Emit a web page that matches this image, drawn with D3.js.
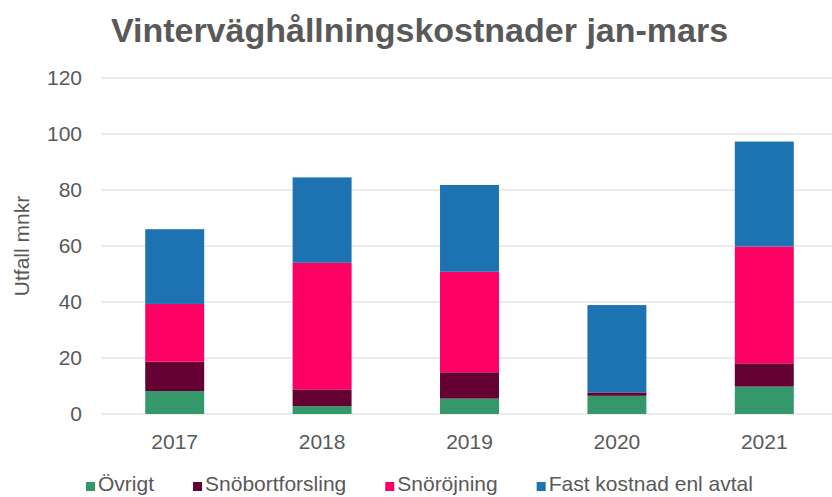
<!DOCTYPE html>
<html>
<head>
<meta charset="utf-8">
<script src="https://cdn.jsdelivr.net/npm/d3@7"></script>
<style>
  body { margin: 0; background: #fff; }
  text { font-family: 'Liberation Sans', Arial, sans-serif; fill: #595959; }
</style>
</head>
<body>
<div id="app"></div>
<script>
// data (mnkr)
const years = ['2017', '2018', '2019', '2020', '2021']
const ovrigt = [8.2, 2.8, 5.5, 6.5, 9.8]
const snobortforsling = [10.5, 6.0, 9.4, 1.2, 8.3]
const snorojning = [20.6, 45.2, 35.9, 0, 41.7]
const fastKostnad = [26.7, 30.5, 31.0, 31.2, 37.5]
const seriesNames = ['Övrigt', 'Snöbortforsling', 'Snöröjning', 'Fast kostnad enl avtal']
const yTicks = [0, 20, 40, 60, 80, 100, 120]

const colors = ['#35986a', '#650032', '#fc0063', '#1d73b2']

const W = 832, H = 497
const svg = d3.select('#app').append('svg').attr('width', W).attr('height', H)

const rows = years.map((y, i) => ({
  year: y,
  'Övrigt': ovrigt[i],
  'Snöbortforsling': snobortforsling[i],
  'Snöröjning': snorojning[i],
  'Fast kostnad enl avtal': fastKostnad[i]
}))
const stacked = d3.stack().keys(seriesNames)(rows)

const x = d3.scaleBand().domain(years).range([101, 838]).paddingInner(0.6).paddingOuter(0.3)
const y = d3.scaleLinear().domain([0, 120]).range([414, 78])

// gridlines
svg.append('g')
  .selectAll('line').data(yTicks).enter().append('line')
  .attr('x1', 101).attr('x2', W)
  .attr('y1', d => y(d)).attr('y2', d => y(d))
  .attr('stroke', '#d9d9d9').attr('stroke-width', 1)

// y tick labels
svg.append('g')
  .selectAll('text').data(yTicks).enter().append('text')
  .attr('x', 82).attr('y', d => y(d)).attr('dy', '0.35em')
  .attr('text-anchor', 'end').style('font-size', '21px')
  .text(d => d)

// bars
svg.append('g')
  .selectAll('g').data(stacked).enter().append('g')
  .attr('fill', (d, i) => colors[i])
  .selectAll('rect').data(d => d).enter().append('rect')
  .attr('x', d => x(d.data.year))
  .attr('width', x.bandwidth())
  .attr('y', d => y(d[1]))
  .attr('height', d => y(d[0]) - y(d[1]))

// x labels
svg.append('g')
  .selectAll('text').data(years).enter().append('text')
  .attr('x', d => x(d) + x.bandwidth() / 2).attr('y', 448.5)
  .attr('text-anchor', 'middle').style('font-size', '21px')
  .text(d => d)

// title
svg.append('text')
  .attr('x', 419.5).attr('y', 42)
  .attr('text-anchor', 'middle')
  .style('font-size', '34px').style('font-weight', 'bold')
  .text('Vinterväghållningskostnader jan-mars')

// y axis title
svg.append('text')
  .attr('transform', 'translate(29,246) rotate(-90)')
  .attr('text-anchor', 'middle').style('font-size', '21px')
  .text('Utfall mnkr')

// legend
const lg = svg.append('g')
let lx = 86
seriesNames.forEach((name, i) => {
  lg.append('rect').attr('x', lx).attr('y', 482).attr('width', 9).attr('height', 9).attr('fill', colors[i])
  const t = lg.append('text').attr('x', lx + 12).attr('y', 491).style('font-size', '21px').text(name)
  lx += 12 + t.node().getComputedTextLength() + 39
})
</script>
</body>
</html>
